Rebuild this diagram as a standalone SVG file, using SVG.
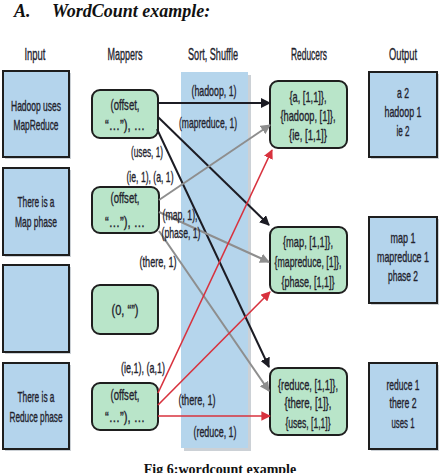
<svg xmlns="http://www.w3.org/2000/svg" width="447" height="473" viewBox="0 0 447 473">
<style>
.t{font-family:"Liberation Sans",Arial,sans-serif;font-size:15px;fill:#22222c;stroke:#22222c;stroke-width:0.35;text-anchor:middle;}
.h{font-size:16px;}
.in{fill:#b4d4ec;stroke:#1e1e1e;stroke-width:2;}
.mp{fill:#b9e5c9;stroke:#1e1e1e;stroke-width:2;}
.sh{fill:#9aa3ad;opacity:0.5;}
.k{stroke:#1c1c24;stroke-width:2;fill:none;}
.g{stroke:#8e8e8e;stroke-width:2;fill:none;}
.r{stroke:#d8323e;stroke-width:1.6;fill:none;}
</style>
<defs>
<marker id="ak" viewBox="0 0 10 10" refX="9" refY="5" markerWidth="5" markerHeight="5" orient="auto" markerUnits="strokeWidth"><path d="M0,0 L10,5 L0,10 z" fill="#1c1c24"/></marker>
<marker id="ag" viewBox="0 0 10 10" refX="9" refY="5" markerWidth="5" markerHeight="5" orient="auto" markerUnits="strokeWidth"><path d="M0,0 L10,5 L0,10 z" fill="#8e8e8e"/></marker>
<marker id="ar" viewBox="0 0 10 10" refX="9" refY="5" markerWidth="6" markerHeight="6" orient="auto" markerUnits="strokeWidth"><path d="M0,0 L10,5 L0,10 z" fill="#d8323e"/></marker>
</defs>
<rect width="447" height="473" fill="#ffffff"/>
<g id="title">
<text x="14" y="17" font-family="Liberation Serif,serif" font-size="18" font-weight="bold" font-style="italic" fill="#111">A.</text>
<text x="52" y="17" font-family="Liberation Serif,serif" font-size="18" font-weight="bold" font-style="italic" fill="#111">WordCount example:</text>
</g>
<g id="headers">
<text class="t h" x="35" y="60" textLength="21" lengthAdjust="spacingAndGlyphs">Input</text>
<text class="t h" x="125" y="60" textLength="35" lengthAdjust="spacingAndGlyphs">Mappers</text>
<text class="t h" x="213" y="60" textLength="50" lengthAdjust="spacingAndGlyphs">Sort, Shuffle</text>
<text class="t h" x="309" y="60" textLength="36" lengthAdjust="spacingAndGlyphs">Reducers</text>
<text class="t h" x="403" y="60" textLength="28" lengthAdjust="spacingAndGlyphs">Output</text>
</g>
<g id="shuffle">
<rect class="sh" x="184" y="75" width="67" height="376"/>
<rect x="181" y="72" width="67" height="376" fill="#b5d5ec"/>
</g>
<g id="input1"><rect class="sh" x="5" y="73" width="66" height="86"/><rect class="in" x="3" y="71" width="66" height="86"/><text class="t" x="36" y="111" textLength="50" lengthAdjust="spacingAndGlyphs">Hadoop uses</text><text class="t" x="36" y="130" textLength="45" lengthAdjust="spacingAndGlyphs">MapReduce</text></g>
<g id="input2"><rect class="sh" x="5" y="170" width="66" height="87"/><rect class="in" x="3" y="168" width="66" height="87"/><text class="t" x="36" y="207" textLength="37" lengthAdjust="spacingAndGlyphs">There is a</text><text class="t" x="36" y="227" textLength="42" lengthAdjust="spacingAndGlyphs">Map phase</text></g>
<g id="input3"><rect class="sh" x="5" y="267" width="66" height="87"/><rect class="in" x="3" y="265" width="66" height="87"/></g>
<g id="input4"><rect class="sh" x="5" y="365" width="66" height="86"/><rect class="in" x="3" y="363" width="66" height="86"/><text class="t" x="36" y="402" textLength="37" lengthAdjust="spacingAndGlyphs">There is a</text><text class="t" x="36" y="422" textLength="53" lengthAdjust="spacingAndGlyphs">Reduce phase</text></g>
<g id="mapper1"><rect class="mp" x="92" y="90" width="66" height="48" rx="8"/><text class="t" x="125" y="110" textLength="29" lengthAdjust="spacingAndGlyphs">(offset,</text><text class="t" x="125" y="130" textLength="40" lengthAdjust="spacingAndGlyphs">“…”), …</text></g>
<g id="mapper2"><rect class="mp" x="92" y="187" width="67" height="46" rx="8"/><text class="t" x="125" y="203" textLength="29" lengthAdjust="spacingAndGlyphs">(offset,</text><text class="t" x="125" y="227" textLength="40" lengthAdjust="spacingAndGlyphs">“…”), …</text></g>
<g id="mapper3"><rect class="mp" x="92" y="285" width="66" height="49" rx="8"/><text class="t" x="125" y="315" textLength="27" lengthAdjust="spacingAndGlyphs">(0, “”)</text></g>
<g id="mapper4"><rect class="mp" x="92" y="383" width="66" height="47" rx="8"/><text class="t" x="125" y="400" textLength="29" lengthAdjust="spacingAndGlyphs">(offset,</text><text class="t" x="125" y="422" textLength="40" lengthAdjust="spacingAndGlyphs">“…”), …</text></g>
<g id="reducer1"><rect class="mp" x="270" y="81" width="77" height="67" rx="8"/><text class="t" x="308" y="102" textLength="37" lengthAdjust="spacingAndGlyphs">{a, [1,1]},</text><text class="t" x="308" y="121" textLength="55" lengthAdjust="spacingAndGlyphs">{hadoop, [1]},</text><text class="t" x="308" y="140" textLength="38" lengthAdjust="spacingAndGlyphs">{ie, [1,1]}</text></g>
<g id="reducer2"><rect class="mp" x="270" y="227" width="77" height="66" rx="8"/><text class="t" x="308" y="247" textLength="50" lengthAdjust="spacingAndGlyphs">{map, [1,1]},</text><text class="t" x="308" y="267" textLength="67" lengthAdjust="spacingAndGlyphs">{mapreduce, [1]},</text><text class="t" x="308" y="287" textLength="53" lengthAdjust="spacingAndGlyphs">{phase, [1,1]}</text></g>
<g id="reducer3"><rect class="mp" x="270" y="368" width="77" height="67" rx="8"/><text class="t" x="308" y="390" textLength="60" lengthAdjust="spacingAndGlyphs">{reduce, [1,1]},</text><text class="t" x="308" y="408" textLength="47" lengthAdjust="spacingAndGlyphs">{there, [1]},</text><text class="t" x="308" y="428" textLength="45" lengthAdjust="spacingAndGlyphs">{uses, [1,1]}</text></g>
<g id="output1"><rect class="sh" x="371" y="74" width="68" height="85"/><rect class="in" x="369" y="72" width="68" height="85"/><text class="t" x="403" y="98" textLength="12" lengthAdjust="spacingAndGlyphs">a 2</text><text class="t" x="403" y="117" textLength="37" lengthAdjust="spacingAndGlyphs">hadoop 1</text><text class="t" x="403" y="136" textLength="13" lengthAdjust="spacingAndGlyphs">ie 2</text></g>
<g id="output2"><rect class="sh" x="371" y="219" width="68" height="86"/><rect class="in" x="369" y="217" width="68" height="86"/><text class="t" x="403" y="243" textLength="25" lengthAdjust="spacingAndGlyphs">map 1</text><text class="t" x="403" y="262" textLength="52" lengthAdjust="spacingAndGlyphs">mapreduce 1</text><text class="t" x="403" y="281" textLength="30" lengthAdjust="spacingAndGlyphs">phase 2</text></g>
<g id="output3"><rect class="sh" x="371" y="365" width="68" height="86"/><rect class="in" x="369" y="363" width="68" height="86"/><text class="t" x="403" y="390" textLength="33" lengthAdjust="spacingAndGlyphs">reduce 1</text><text class="t" x="403" y="408" textLength="27" lengthAdjust="spacingAndGlyphs">there 2</text><text class="t" x="403" y="428" textLength="23" lengthAdjust="spacingAndGlyphs">uses 1</text></g>
<g id="connectors">
<line class="k" x1="158" y1="103" x2="270" y2="103" marker-end="url(#ak)"/>
<line class="k" x1="158" y1="117" x2="269" y2="225" marker-end="url(#ak)"/>
<line class="k" x1="157" y1="129" x2="269" y2="367" marker-end="url(#ak)"/>
<line class="g" x1="159" y1="200" x2="270" y2="125" marker-end="url(#ag)"/>
<line class="g" x1="159" y1="212" x2="269" y2="262" marker-end="url(#ag)"/>
<line class="g" x1="159" y1="231" x2="269" y2="391" marker-end="url(#ag)"/>
<line class="r" x1="158" y1="393" x2="272" y2="150" marker-end="url(#ar)"/>
<line class="r" x1="158" y1="405" x2="270" y2="292" marker-end="url(#ar)"/>
<line class="r" x1="158" y1="416" x2="270" y2="416" marker-end="url(#ar)"/>
</g>
<g id="labels">
<text class="t" x="214" y="96" textLength="45" lengthAdjust="spacingAndGlyphs">(hadoop, 1)</text>
<text class="t" x="208" y="128" textLength="58" lengthAdjust="spacingAndGlyphs">(mapreduce, 1)</text>
<text class="t" x="147" y="157" textLength="32" lengthAdjust="spacingAndGlyphs">(uses, 1)</text>
<text class="t" x="150" y="182" textLength="47" lengthAdjust="spacingAndGlyphs">(ie, 1), (a, 1)</text>
<text class="t" x="180" y="220" textLength="35" lengthAdjust="spacingAndGlyphs">(map, 1),</text>
<text class="t" x="181" y="238" textLength="39" lengthAdjust="spacingAndGlyphs">(phase, 1)</text>
<text class="t" x="158" y="267" textLength="37" lengthAdjust="spacingAndGlyphs">(there, 1)</text>
<text class="t" x="143" y="373" textLength="44" lengthAdjust="spacingAndGlyphs">(ie,1), (a,1)</text>
<text class="t" x="197" y="405" textLength="37" lengthAdjust="spacingAndGlyphs">(there, 1)</text>
<text class="t" x="215" y="437" textLength="43" lengthAdjust="spacingAndGlyphs">(reduce, 1)</text>
</g>
<g id="caption">
<text x="220" y="474" font-family="Liberation Serif,serif" font-size="14" font-weight="bold" fill="#111" text-anchor="middle">Fig 6:wordcount example</text>
</g>
</svg>
